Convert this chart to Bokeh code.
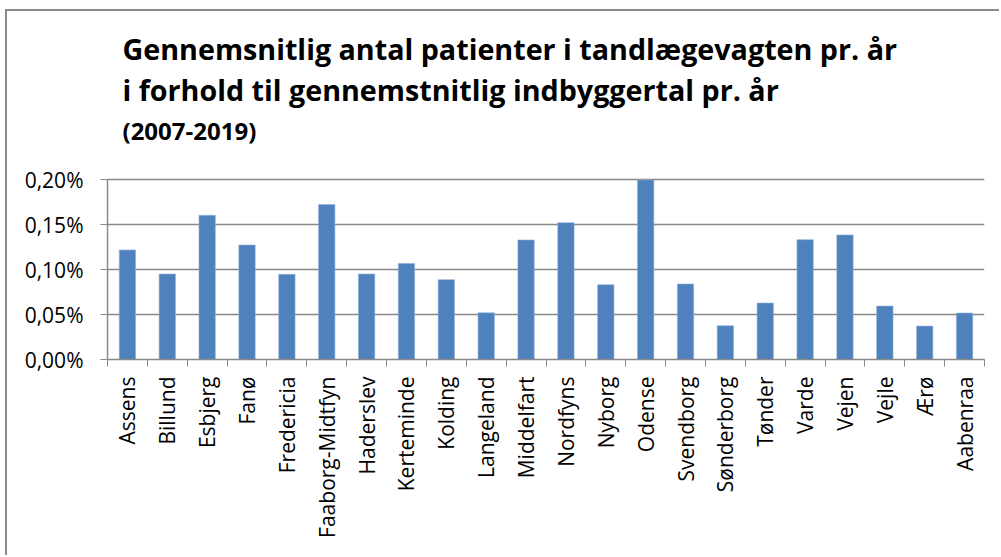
import numpy as np
from bokeh.plotting import figure
from bokeh.models import FixedTicker, Title, Range1d
from bokeh.embed import file_html
from bokeh.resources import INLINE

categories = ["Assens", "Billund", "Esbjerg", "Fanø", "Fredericia", "Faaborg-Midtfyn",
              "Haderslev", "Kerteminde", "Kolding", "Langeland", "Middelfart", "Nordfyns",
              "Nyborg", "Odense", "Svendborg", "Sønderborg", "Tønder", "Varde", "Vejen",
              "Vejle", "Ærø", "Aabenraa"]
values = [0.122, 0.0952, 0.1605, 0.1275, 0.0948, 0.1725,
          0.0952, 0.107, 0.0889, 0.052, 0.1331, 0.1524,
          0.0833, 0.200, 0.0841, 0.0376, 0.0629, 0.1334, 0.1387,
          0.0595, 0.0372, 0.0517]
y_ticks = [0.0, 0.05, 0.10, 0.15, 0.20]
y_tick_labels = ["0,00%", "0,05%", "0,10%", "0,15%", "0,20%"]
title_lines = ["Gennemsnitlig antal patienter i tandlægevagten pr. år",
               "i forhold til gennemstnitlig indbyggertal pr. år"]
subtitle = "(2007-2019)"

FONT = "Open Sans"
GRAY = "#898989"
BAR = "#4F81BD"

n = len(categories)
xc = np.arange(n) + 0.5
y_top = 0.2 * 213 / 179.6  # headroom so the title sits in the frame's upper margin

p = figure(width=994, height=546, output_backend="svg", toolbar_location=None,
           x_range=Range1d(0, n), y_range=Range1d(0, y_top),
           min_border_left=100, min_border_right=17, min_border_top=135, min_border_bottom=198)
p.styles = {"border-left": "2px solid #8a8a8a", "border-top": "2px solid #8a8a8a",
            "margin-left": "5px", "margin-top": "9px"}
p.outline_line_color = None
p.background_fill_color = "white"
p.border_fill_color = "white"

p.vbar(x=xc, top=values, width=0.41, bottom=0, fill_color=BAR, line_color="#8FB0DA", line_width=0.6)

# x axis
p.xaxis.ticker = FixedTicker(ticks=list(xc), minor_ticks=list(np.arange(n + 1)))
p.xaxis.major_label_overrides = {float(x): c for x, c in zip(xc, categories)}
p.xaxis.major_label_orientation = np.pi / 2
p.xaxis.major_tick_line_color = None
p.xaxis.minor_tick_line_color = GRAY
p.xaxis.minor_tick_out = 7
p.xaxis.minor_tick_in = 0
p.xaxis.axis_line_color = GRAY
p.xaxis.axis_line_width = 1.5
p.xaxis.major_label_text_font = FONT
p.xaxis.major_label_text_font_size = "21px"
p.xaxis.major_label_text_color = "black"
p.xaxis.major_label_standoff = 10
p.xgrid.grid_line_color = None

# y axis
p.yaxis.ticker = FixedTicker(ticks=y_ticks)
p.yaxis.bounds = (y_ticks[0], y_ticks[-1])
p.yaxis.major_label_overrides = {t: l for t, l in zip(y_ticks, y_tick_labels)}
p.yaxis.major_tick_line_color = GRAY
p.yaxis.major_tick_out = 7
p.yaxis.major_tick_in = 0
p.yaxis.minor_tick_line_color = None
p.yaxis.axis_line_color = GRAY
p.yaxis.axis_line_width = 1.5
p.yaxis.major_label_text_font = FONT
p.yaxis.major_label_text_font_size = "21px"
p.yaxis.major_label_text_color = "black"
p.yaxis.major_label_standoff = 17
p.ygrid.grid_line_color = GRAY
p.ygrid.grid_line_width = 1.5

# titles
t_sub = Title(text=subtitle, align="left", offset=15, text_font=FONT, text_font_style="bold",
              text_font_size="24px", text_color="black", standoff=0)
t_l2 = Title(text=title_lines[1], align="left", offset=15, text_font=FONT, text_font_style="bold",
             text_font_size="28.7px", text_color="black", standoff=6)
t_l1 = Title(text=title_lines[0], align="left", offset=15, text_font=FONT, text_font_style="bold",
             text_font_size="28.7px", text_color="black", standoff=-6)
p.add_layout(t_sub, "above")
p.add_layout(t_l2, "above")
p.add_layout(t_l1, "above")

open("out.html", "w").write(file_html(p, INLINE))
